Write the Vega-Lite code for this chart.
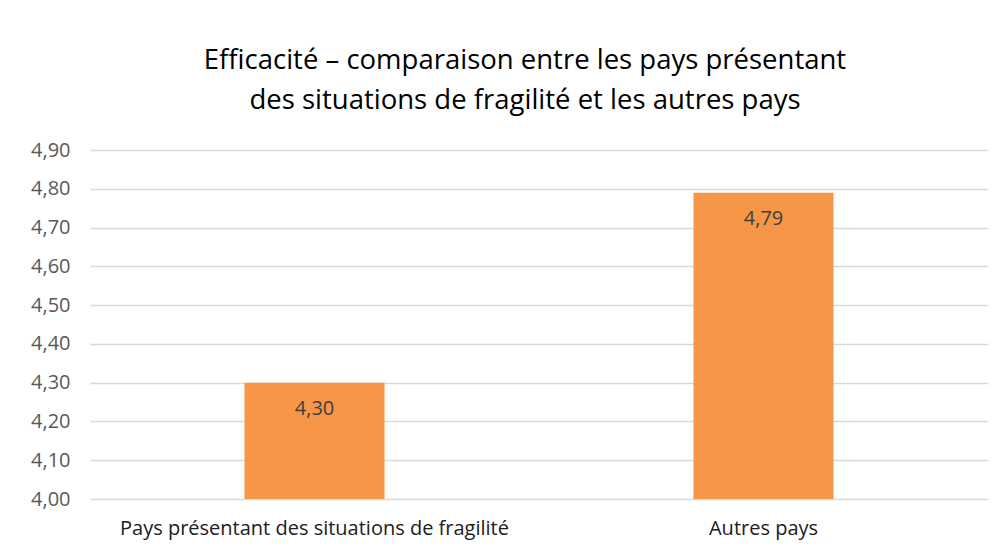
{
  "$schema": "https://vega.github.io/schema/vega-lite/v6.json",
  "autosize": "none",
  "width": 898,
  "height": 349,
  "padding": {"left": 90, "top": 150, "right": 19, "bottom": 58},
  "background": "white",
  "config": {
    "locale": {"number": {"decimal": ",", "thousands": " ", "grouping": [3], "currency": ["", " €"]}},
    "view": {"stroke": null},
    "font": "Open Sans"
  },
  "title": {
    "text": ["Efficacité – comparaison entre les pays présentant", "des situations de fragilité et les autres pays"],
    "font": "Open Sans",
    "fontSize": 27.5,
    "fontWeight": "normal",
    "color": "#000000",
    "anchor": "middle",
    "dx": -14,
    "offset": 26,
    "lineHeight": 40
  },
  "data": {
    "values": [
      {"groupe": "Pays présentant des situations de fragilité", "valeur": 4.30},
      {"groupe": "Autres pays", "valeur": 4.79}
    ]
  },
  "encoding": {
    "x": {
      "field": "groupe",
      "type": "nominal",
      "sort": null,
      "scale": {"paddingInner": 0, "paddingOuter": 0},
      "axis": {
        "title": null,
        "labelAngle": 0,
        "domain": false,
        "ticks": false,
        "labelLimit": 0,
        "labelOverlap": false,
        "labelFont": "Open Sans",
        "labelFontSize": 20,
        "labelColor": "#202020",
        "labelPadding": 19
      }
    },
    "y": {
      "field": "valeur",
      "type": "quantitative",
      "scale": {"domain": [4, 4.9], "zero": false, "nice": false},
      "axis": {
        "title": null,
        "values": [4.0, 4.1, 4.2, 4.3, 4.4, 4.5, 4.6, 4.7, 4.8, 4.9],
        "format": ".2f",
        "domain": false,
        "ticks": false,
        "labelPadding": 20,
        "labelFont": "Open Sans",
        "labelFontSize": 20,
        "labelColor": "#595959",
        "gridColor": "#d9d9d9",
        "gridWidth": 1.5
      }
    }
  },
  "layer": [
    {
      "mark": {"type": "bar", "size": 140, "color": "#F79646"},
      "encoding": {"y2": {"datum": 4}}
    },
    {
      "mark": {"type": "text", "baseline": "top", "dy": 16, "font": "Open Sans", "fontSize": 20, "color": "#404040"},
      "encoding": {"text": {"field": "valeur", "type": "quantitative", "format": ".2f"}}
    }
  ]
}
